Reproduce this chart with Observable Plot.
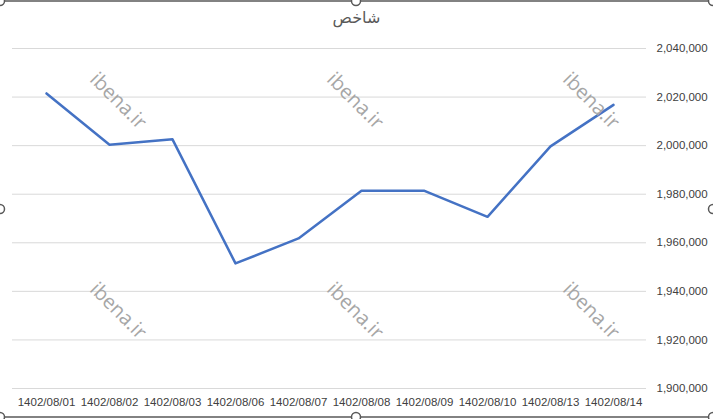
<!DOCTYPE html>
<html>
<head>
<meta charset="utf-8">
<script src="https://cdn.jsdelivr.net/npm/d3@7"></script>
<script src="https://cdn.jsdelivr.net/npm/@observablehq/plot@0.6"></script>
<style>
  html, body { margin: 0; padding: 0; background: #fff; }
  #wrap { position: relative; width: 713px; height: 419px; overflow: hidden; font-family: "Liberation Sans", Arial, sans-serif; }
  #title { position: absolute; left: 0; width: 713px; top: 8px; text-align: center; font-size: 16px; color: #595959; font-family: "DejaVu Sans", "Noto Sans", sans-serif; direction: rtl; }
  .wm { position: absolute; font-family: "Open Sans", "Noto Sans", sans-serif; font-size: 20px; color: #a6a6a6; transform: translate(-50%, -50%) rotate(45deg); white-space: nowrap; pointer-events: none; }
  #frame { position: absolute; left: 0; top: 0; }
</style>
</head>
<body>
<div id="wrap"></div>
<script>
const dates = ["1402/08/01","1402/08/02","1402/08/03","1402/08/06","1402/08/07","1402/08/08","1402/08/09","1402/08/10","1402/08/13","1402/08/14"];
const values = [2021500, 2000400, 2002600, 1951500, 1961800, 1981400, 1981400, 1970700, 1999700, 2016800];
const yTicks = [1900000, 1920000, 1940000, 1960000, 1980000, 2000000, 2020000, 2040000];
const titleText = "شاخص";
const watermark = "ibena.ir";

const data = dates.map((d, i) => ({date: d, value: values[i]}));
const fmt = d3.format(",");

const chart = Plot.plot({
  width: 713,
  height: 419,
  marginLeft: 12,
  marginRight: 67,
  marginTop: 48,
  marginBottom: 31,
  style: {background: "transparent", fontFamily: "Liberation Sans, Arial, sans-serif", fontSize: "11px", color: "#595959"},
  x: {type: "point", domain: dates, padding: 0.5, label: null},
  y: {domain: [1900000, 2040000], label: null},
  marks: [
    Plot.gridY(yTicks, {stroke: "#d9d9d9", strokeOpacity: 1, strokeWidth: 1}),
    Plot.axisY(yTicks, {anchor: "right", tickSize: 0, tickPadding: 10, tickFormat: fmt, textAnchor: "start", fill: "#404040", fontSize: 11.5}),
    Plot.axisX(dates, {anchor: "bottom", tickSize: 0, tickPadding: 9, fill: "#404040", fontSize: 11.5}),
    Plot.line(data, {x: "date", y: "value", stroke: "#4472c4", strokeWidth: 2.5, strokeLinejoin: "round", strokeLinecap: "round"})
  ]
});

const wrap = document.getElementById("wrap");
wrap.appendChild(chart);

const t = document.createElement("div");
t.id = "title";
t.textContent = titleText;
wrap.appendChild(t);

const wmCols = [119, 356, 592];
const wmRows = [100, 310];
for (const cy of wmRows) for (const cx of wmCols) {
  const w = document.createElement("div");
  w.className = "wm";
  w.style.left = cx + "px";
  w.style.top = cy + "px";
  w.textContent = watermark;
  wrap.appendChild(w);
}

// Excel-like selection frame with handles
const ns = "http://www.w3.org/2000/svg";
const f = document.createElementNS(ns, "svg");
f.setAttribute("id", "frame");
f.setAttribute("width", 713);
f.setAttribute("height", 419);
const frameY = [1, 417];
for (const y of frameY) {
  const l = document.createElementNS(ns, "line");
  l.setAttribute("x1", 0); l.setAttribute("x2", 713);
  l.setAttribute("y1", y); l.setAttribute("y2", y);
  l.setAttribute("stroke", "#595959"); l.setAttribute("stroke-width", 1.5);
  f.appendChild(l);
}
const handles = [[0,1],[356,1],[713,1],[0,209],[713,209],[0,417],[356,417],[713,417]];
for (const [x, y] of handles) {
  const c = document.createElementNS(ns, "circle");
  c.setAttribute("cx", x); c.setAttribute("cy", y); c.setAttribute("r", 4.5);
  c.setAttribute("fill", "#fff"); c.setAttribute("stroke", "#595959"); c.setAttribute("stroke-width", 1.5);
  f.appendChild(c);
}
wrap.appendChild(f);
</script>
</body>
</html>
